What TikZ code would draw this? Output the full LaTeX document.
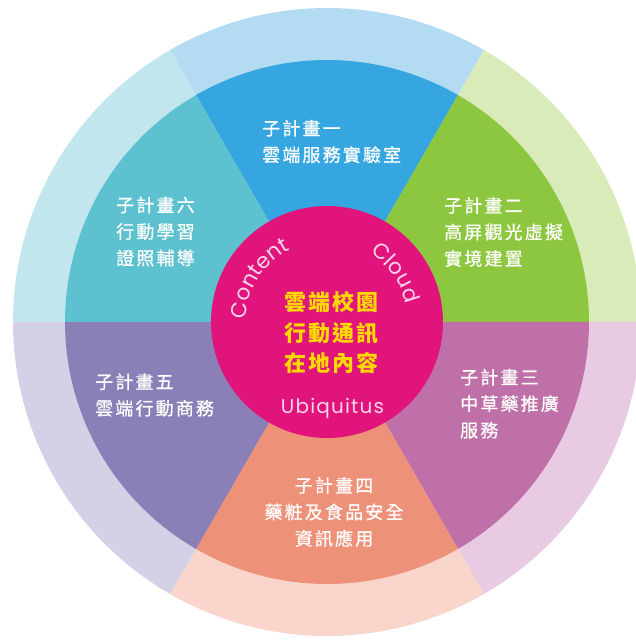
\documentclass[tikz,border=0pt]{standalone}
\usepackage{fontspec}
\usetikzlibrary{decorations.text}
\newfontfamily\cjk{Noto Sans CJK TC}[LetterSpace=12,FakeBold=0.7]
\newfontfamily\cjkc{Noto Sans CJK TC}[LetterSpace=8]
\newfontfamily\latf{Poppins}
\newfontfamily\latfs{Poppins}[LetterSpace=6]
\definecolor{s1d}{HTML}{35A6E0}\definecolor{s1l}{HTML}{B3DCF3}
\definecolor{s2d}{HTML}{8DC63F}\definecolor{s2l}{HTML}{D8EBB8}
\definecolor{s3d}{HTML}{C070A8}\definecolor{s3l}{HTML}{E8CBE2}
\definecolor{s4d}{HTML}{EE9179}\definecolor{s4l}{HTML}{F9D5CB}
\definecolor{s5d}{HTML}{8A7FB6}\definecolor{s5l}{HTML}{D4D0E6}
\definecolor{s6d}{HTML}{5EC1CF}\definecolor{s6l}{HTML}{C2E6EE}
\definecolor{mag}{HTML}{E0147B}
\definecolor{ctext}{HTML}{FFD800}
\definecolor{ptext}{HTML}{F9D3EA}
\begin{document}
\begin{tikzpicture}[x=1pt,y=1pt,
  subtext/.style={text=white,inner sep=0pt,font=\cjk\fontsize{18}{26.5}\selectfont},
  ]
\useasboundingbox (0,0) rectangle (636,641);
\clip (0,0) rectangle (636,641);
\coordinate (C) at (327,319);
% light outer ring sectors
\foreach \a/\c in {60/s1l,0/s2l,-60/s3l,-120/s4l,180/s5l,120/s6l}{
  \fill[\c] (C) -- ++(\a:314) arc[start angle=\a, end angle=\a+60, radius=314] -- cycle;
}
% dark inner sectors
\foreach \a/\c in {60/s1d,0/s2d,-60/s3d,-120/s4d,180/s5d,120/s6d}{
  \fill[\c] (C) -- ++(\a:262) arc[start angle=\a, end angle=\a+60, radius=262] -- cycle;
}
% centre disc
\node[circle,fill=mag,minimum size=232pt,inner sep=0pt] (hub) at (C) {};
% arc labels
\path[decorate,decoration={text along path,text align=center,
  text={|\latf\fontsize{21.5}{21.5}\selectfont\color{ptext}|Content}}]
  (C) ++(178:81) arc[start angle=178, end angle=117, radius=81];
\path[decorate,decoration={text along path,text align=center,
  text={|\latf\fontsize{21.5}{21.5}\selectfont\color{ptext}|Cloud}}]
  (C) ++(66:81) arc[start angle=66, end angle=5, radius=81];
\node[text=ptext,inner sep=0pt,font=\latfs\fontsize{20}{20}\selectfont] (ubi) at (332.5,233) {Ubiquitus};
% centre text
\node[text=ctext,inner sep=0pt,align=center,font=\cjkc\bfseries\fontsize{22}{30.5}\selectfont] (core) at (331.5,308.5) {雲端校園\\行動通訊\\在地內容};
% sector texts
\node[subtext,anchor=west,align=left] (p1) at (262,499.5) {子計畫一\\雲端服務實驗室};
\node[subtext,anchor=west,align=left] (p2) at (444,409) {子計畫二\\高屏觀光虛擬\\實境建置};
\node[subtext,anchor=west,align=left] (p3) at (460,237.3) {子計畫三\\中草藥推廣\\服務};
\node[subtext,align=center] (p4) at (334,129) {子計畫四\\藥粧及食品安全\\資訊應用};
\node[subtext,anchor=west,align=left] (p5) at (95,246) {子計畫五\\雲端行動商務};
\node[subtext,anchor=west,align=left] (p6) at (116,409.5) {子計畫六\\行動學習\\證照輔導};
\end{tikzpicture}
\end{document}
